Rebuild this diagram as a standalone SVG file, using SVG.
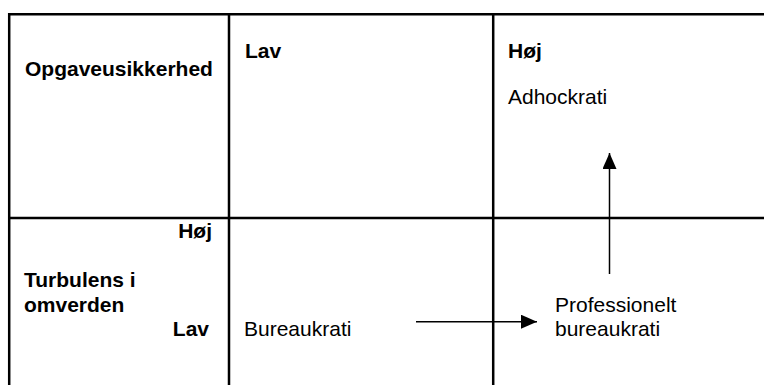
<svg xmlns="http://www.w3.org/2000/svg" width="764" height="385" viewBox="0 0 764 385">
  <defs>
    <style>
      .grid { stroke: #000; stroke-width: 2.5; fill: none; }
      .conn { stroke: #000; stroke-width: 1.5; fill: none; }
      .b { font-family: "Liberation Sans", Arial, sans-serif; font-size: 21px; font-weight: bold; fill: #000; }
      .r { font-family: "Liberation Sans", Arial, sans-serif; font-size: 21px; fill: #000; }
    </style>
    <marker id="ah" viewBox="0 0 16 14" refX="16" refY="7" markerWidth="16" markerHeight="14" markerUnits="userSpaceOnUse" orient="auto">
      <path d="M0,0 L16,7 L0,14 Z" fill="#000"/>
    </marker>
  </defs>
  <rect width="764" height="385" fill="#fff"/>
  <g id="grid">
    <path class="grid" d="M9.2,385 V14.2 H764"/>
    <path class="grid" d="M229,14.2 V385"/>
    <path class="grid" d="M493.2,14.2 V385"/>
    <path class="grid" d="M9.2,218 H764"/>
  </g>
  <g id="header-axis">
    <text class="b" x="25" y="76">Opgaveusikkerhed</text>
  </g>
  <g id="col-lav">
    <text class="b" x="245" y="58">Lav</text>
  </g>
  <g id="col-hoj">
    <text class="b" x="508" y="58">Høj</text>
  </g>
  <g id="row-axis">
    <text class="b" x="212" y="238" text-anchor="end">Høj</text>
    <text class="b" x="24" y="287">Turbulens i</text>
    <text class="b" x="24" y="312">omverden</text>
    <text class="b" x="209" y="336" text-anchor="end">Lav</text>
  </g>
  <g id="adhockrati">
    <text class="r" x="508" y="104">Adhockrati</text>
  </g>
  <g id="bureaukrati">
    <text class="r" x="244" y="336">Bureaukrati</text>
  </g>
  <g id="professionelt-bureaukrati">
    <text class="r" x="555" y="312">Professionelt</text>
    <text class="r" x="555" y="336">bureaukrati</text>
  </g>
  <g id="connectors">
    <line class="conn" x1="416" y1="321.7" x2="537" y2="321.7" marker-end="url(#ah)"/>
    <line class="conn" x1="609.5" y1="274" x2="609.5" y2="153" marker-end="url(#ah)"/>
  </g>
</svg>
